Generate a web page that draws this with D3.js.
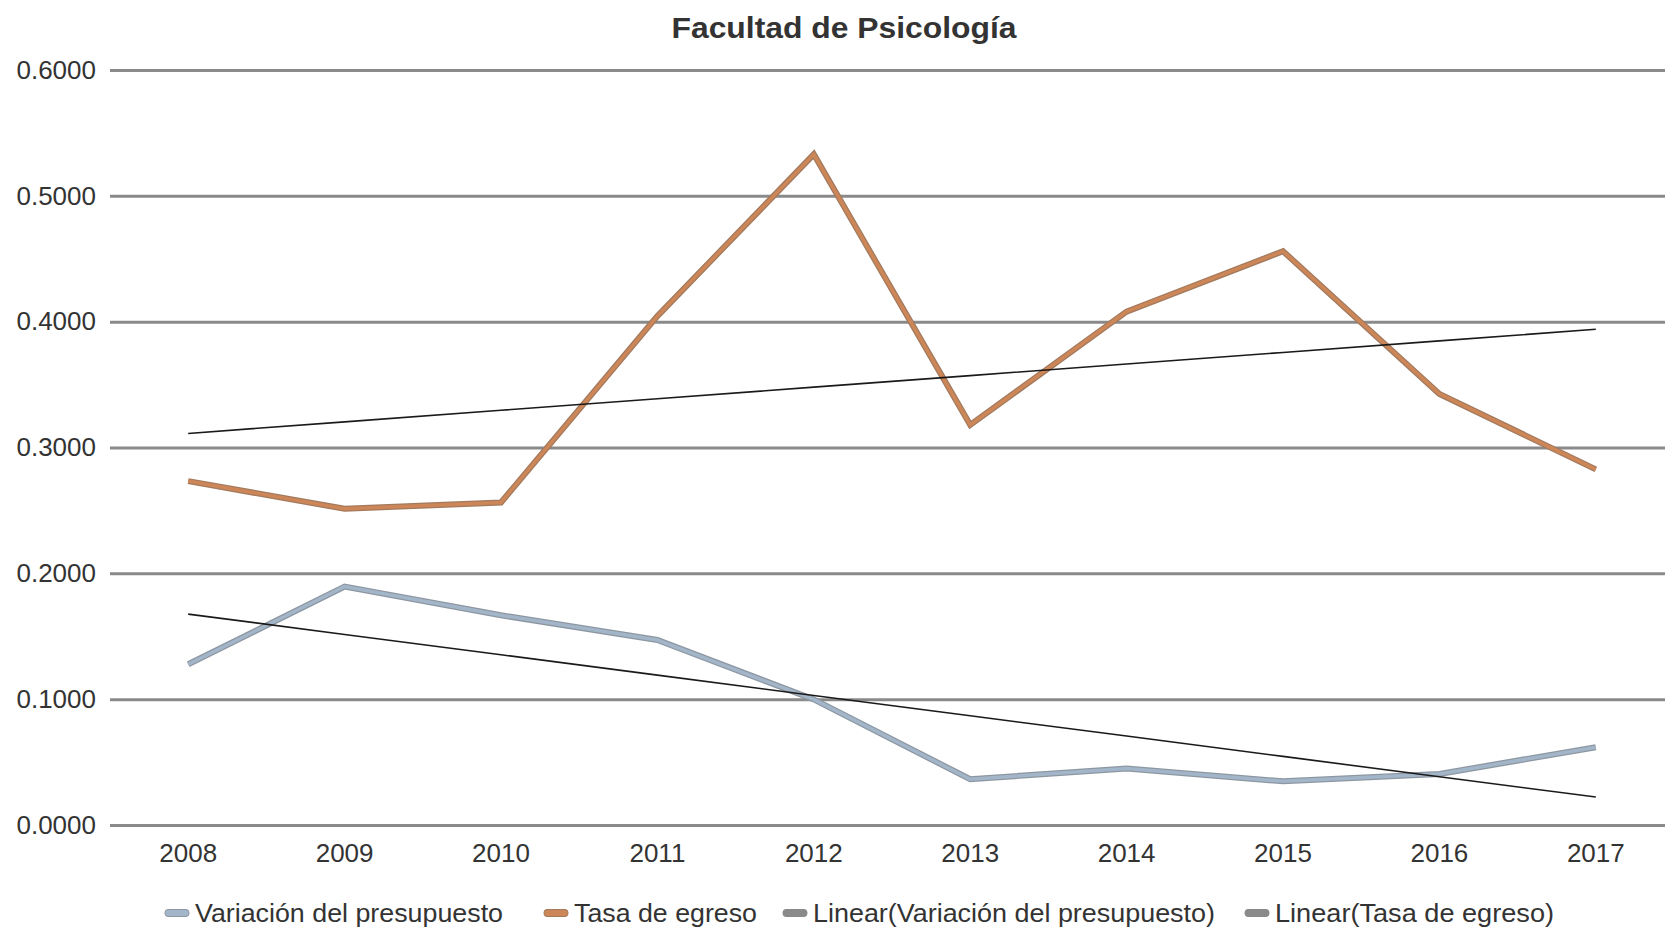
<!DOCTYPE html>
<html>
<head>
<meta charset="utf-8">
<script src="https://cdn.jsdelivr.net/npm/d3@7"></script>
<style>
  body { margin: 0; background: #fff; }
  text { font-family: "Liberation Sans", Arial, sans-serif; fill: #333; }
</style>
</head>
<body>
<script>
// data
let years = ['2008','2009','2010','2011','2012','2013','2014','2015','2016','2017'];
let variacion = [0.1277, 0.1895, 0.1667, 0.1470, 0.0998, 0.0364, 0.0448, 0.0347, 0.0406, 0.0618];
let tasa = [0.2733, 0.2513, 0.2563, 0.4044, 0.5330, 0.3180, 0.4080, 0.4560, 0.3426, 0.2826];
let yTicks = [0, 0.1, 0.2, 0.3, 0.4, 0.5, 0.6];
let legendLabels = ['Variación del presupuesto', 'Tasa de egreso', 'Linear(Variación del presupuesto)', 'Linear(Tasa de egreso)'];

let width = 1665, height = 931;
let margin = {top: 70, bottom: 106, left: 110, right: -9};

let svg = d3.select('body').append('svg').attr('width', width).attr('height', height);

// least squares trend, same as the spreadsheet "Linear" trendline
function trend(vals) {
  let n = vals.length, mx = (n - 1) / 2, my = d3.mean(vals);
  let num = d3.sum(vals, (v, i) => (i - mx) * (v - my));
  let den = d3.sum(vals, (v, i) => (i - mx) * (i - mx));
  let b = num / den, a = my - b * mx;
  return vals.map((v, i) => a + b * i);
}

let xScale = d3.scaleBand().domain(years).range([margin.left, width - margin.right]);
let yScale = d3.scaleLinear().domain([0, 0.6]).range([height - margin.bottom, margin.top]);
let xc = d => xScale(d) + xScale.bandwidth() / 2;

// gridlines + y labels
let yAxis = svg.append('g').attr('transform', `translate(${margin.left},0)`)
  .call(d3.axisLeft(yScale).tickValues(yTicks).tickFormat(d3.format('.4f')).tickSize(-(width - margin.left)).tickPadding(14));
yAxis.select('.domain').remove();
yAxis.selectAll('line').attr('stroke', '#8a8a8a').attr('stroke-width', 3);
yAxis.selectAll('text').style('font-size', '26px').attr('fill', '#3a3a3a').attr('font-family', '"Liberation Sans", Arial, sans-serif');

// x labels
let xAxis = svg.append('g').attr('transform', `translate(0,${height - margin.bottom})`)
  .call(d3.axisBottom(xScale).tickSize(0).tickPadding(19));
xAxis.select('.domain').remove();
xAxis.selectAll('text').style('font-size', '26px').attr('fill', '#3a3a3a').attr('font-family', '"Liberation Sans", Arial, sans-serif');

let line = d3.line().x((d, i) => xc(years[i])).y(d => yScale(d));

function thickLine(vals, edge, fill) {
  svg.append('path').datum(vals).attr('d', line).attr('fill', 'none')
    .attr('stroke', edge).attr('stroke-width', 6).attr('stroke-linejoin', 'miter');
  svg.append('path').datum(vals).attr('d', line).attr('fill', 'none')
    .attr('stroke', fill).attr('stroke-width', 3.5).attr('stroke-linejoin', 'miter');
}

thickLine(variacion, '#8d97a2', '#a3b5c8');
thickLine(tasa, '#a27a5e', '#cd8657');

// trend lines
[variacion, tasa].forEach(vals => {
  svg.append('path').datum(trend(vals)).attr('d', line).attr('fill', 'none')
    .attr('stroke', '#1a1a1a').attr('stroke-width', 1.6);
});

// title
svg.append('text').attr('x', 844).attr('y', 38).attr('text-anchor', 'middle')
  .style('font-size', '30px').style('font-weight', 'bold').attr('fill', '#333')
  .attr('textLength', 345).attr('lengthAdjust', 'spacingAndGlyphs')
  .text('Facultad de Psicología');

// legend
let legendColors = [['#8d97a2', '#a3b5c8'], ['#a27a5e', '#cd8657'], ['#8a8a8a', '#8a8a8a'], ['#8a8a8a', '#8a8a8a']];
let legendX = [165, 544, 783, 1245];
let legendW = [308, 183, 402, 279];
let legend = svg.append('g');
legendLabels.forEach((lab, i) => {
  let g = legend.append('g').attr('transform', `translate(${legendX[i]},913)`);
  g.append('rect').attr('x', 0).attr('y', -3.5).attr('width', 24).attr('height', 7).attr('rx', 3)
    .attr('fill', legendColors[i][1]).attr('stroke', legendColors[i][0]).attr('stroke-width', 1);
  g.append('text').attr('x', 30).attr('y', 9).style('font-size', '25px').attr('fill', '#333')
    .attr('textLength', legendW[i]).attr('lengthAdjust', 'spacingAndGlyphs').text(lab);
});
</script>
</body>
</html>
